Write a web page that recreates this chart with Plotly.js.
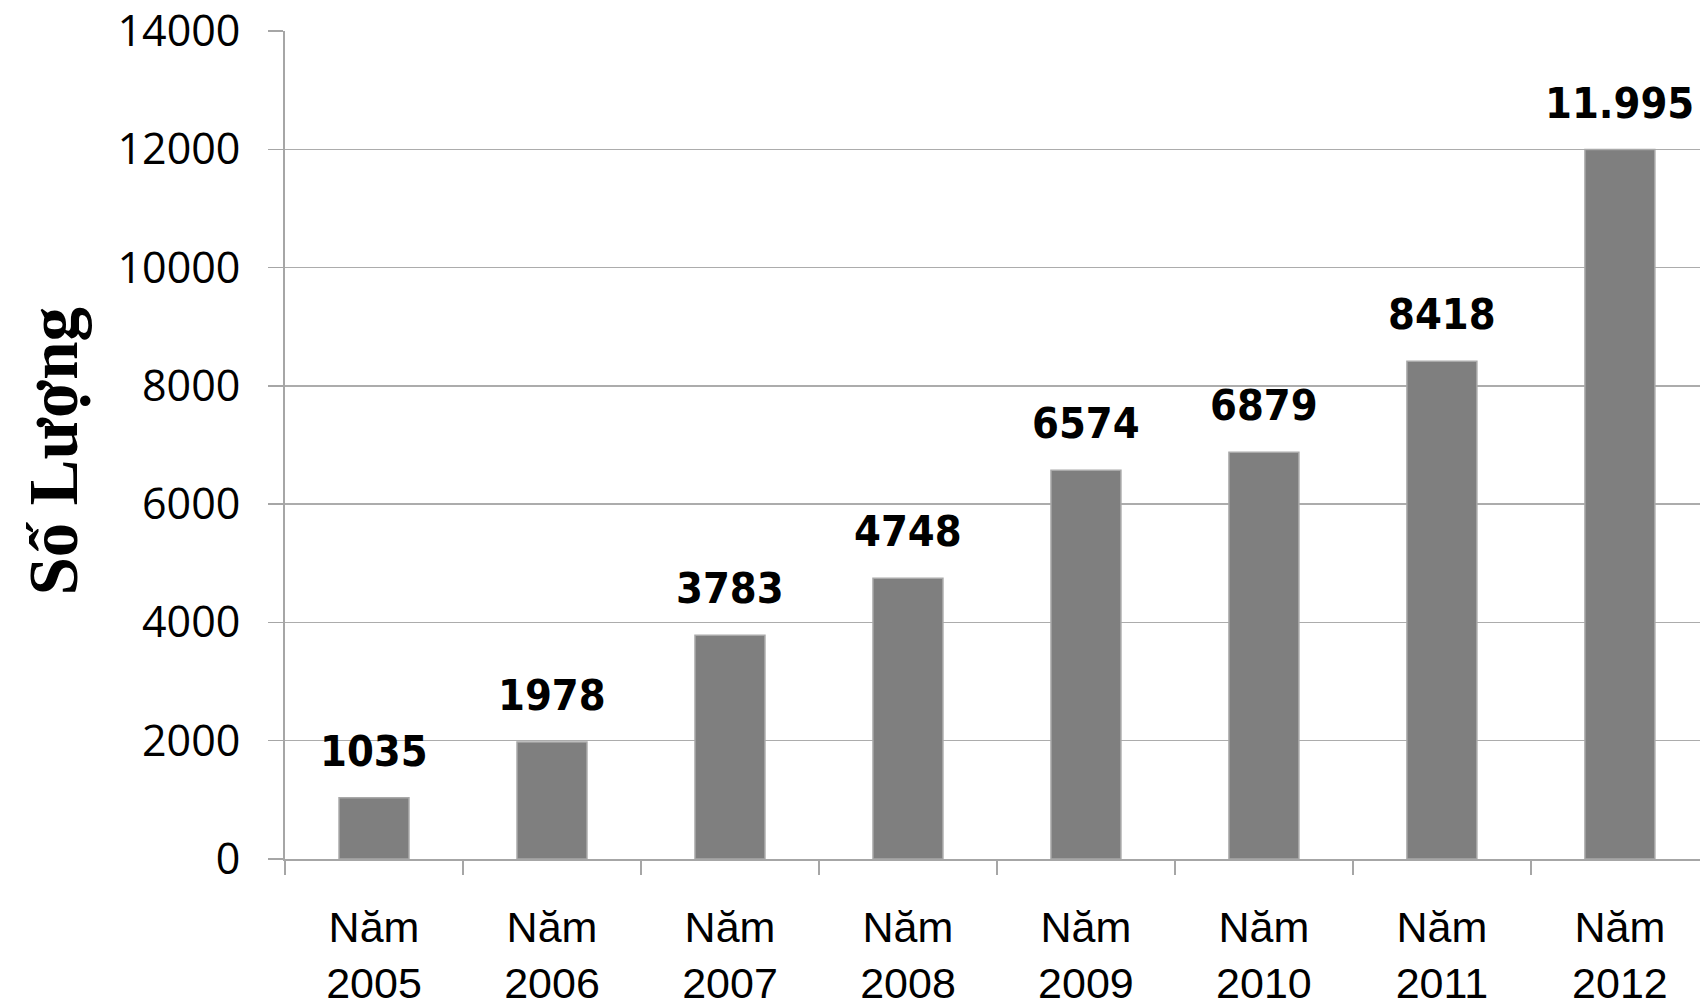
<!DOCTYPE html>
<html>
<head>
<meta charset="utf-8">
<script src="https://cdn.plot.ly/plotly-3.0.1.min.js"></script>
<style>
html, body { margin: 0; padding: 0; overflow: hidden; background: #ffffff; }
#chart { width: 1700px; height: 1007px; }
</style>
</head>
<body>
<div id="chart"></div>
<script>
const categories = ["Năm<br>2005", "Năm<br>2006", "Năm<br>2007", "Năm<br>2008", "Năm<br>2009", "Năm<br>2010", "Năm<br>2011", "Năm<br>2012"];
const values = [1035, 1978, 3783, 4748, 6574, 6879, 8418, 11995];
const valueLabels = ["1035", "1978", "3783", "4748", "6574", "6879", "8418", "11.995"];
const yTicks = [0, 2000, 4000, 6000, 8000, 10000, 12000, 14000];
const yTitle = "Số Lượng";

const trace = {
  type: "bar",
  x: categories,
  y: values,
  marker: { color: "#7f7f7f", line: { color: "#a9a9a9", width: 1.5 } },
  hoverinfo: "x+y",
  showlegend: false
};

const annotations = categories.map((c, i) => ({
  x: c, y: values[i], xref: "x", yref: "y",
  text: valueLabels[i],
  showarrow: false,
  xanchor: "center", yanchor: "bottom",
  yshift: 20,
  font: { family: "Liberation Sans Narrow, DejaVu Sans Condensed, Arial Narrow, sans-serif", size: 43, color: "#000000", weight: "bold", stretch: "condensed" }
}));

annotations.push({
  xref: "paper", yref: "paper",
  x: (54 - 285) / 1415, y: 0.492,
  text: "<b>" + yTitle + "</b>",
  showarrow: false,
  textangle: -90,
  xanchor: "center", yanchor: "middle",
  font: { family: "Liberation Serif, Times New Roman, serif", size: 69, color: "#000000" }
});

const layout = {
  width: 1700,
  height: 1007,
  margin: { l: 285, r: 0, t: 31, b: 148, pad: 0 },
  paper_bgcolor: "#ffffff",
  plot_bgcolor: "#ffffff",
  bargap: 0.607,
  xaxis: {
    type: "category",
    range: [-0.5, 7.45],
    tickson: "boundaries",
    ticks: "outside",
    ticklen: 14,
    tickwidth: 1.5,
    tickcolor: "#a6a6a6",
    showline: true,
    linecolor: "#a6a6a6",
    linewidth: 2,
    showgrid: false,
    zeroline: false,
    ticklabelstandoff: 29,
    tickfont: { family: "Liberation Sans, Arial, sans-serif", size: 43, color: "#000000" }
  },
  yaxis: {
    range: [0, 14000],
    tickmode: "array",
    tickvals: yTicks,
    ticktext: yTicks.map(String),
    ticks: "outside",
    ticklen: 15,
    tickwidth: 1.5,
    tickcolor: "#a6a6a6",
    showline: true,
    linecolor: "#a6a6a6",
    linewidth: 2,
    showgrid: true,
    gridcolor: "#acacac",
    gridwidth: 1.5,
    zeroline: false,
    ticklabelstandoff: 19,
    tickfont: { family: "Open Sans, Liberation Sans, sans-serif", size: 43, color: "#000000" }
  },
  annotations: annotations
};

Plotly.newPlot("chart", [trace], layout, { displayModeBar: false, staticPlot: true });
</script>
</body>
</html>
